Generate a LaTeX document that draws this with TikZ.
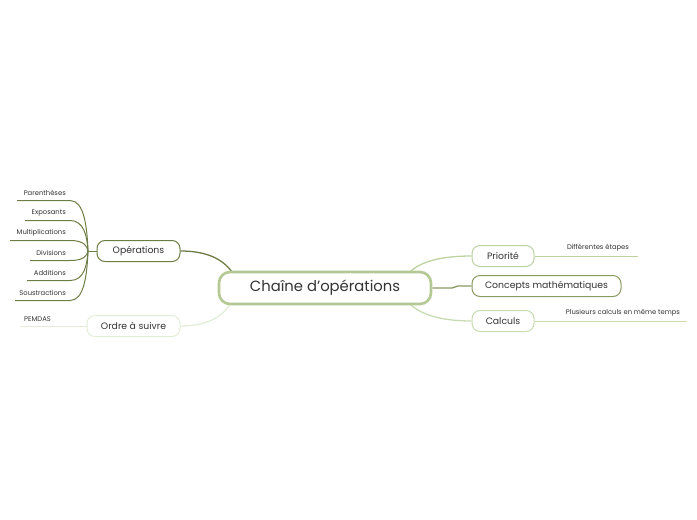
\documentclass[tikz,border=0pt]{standalone}
\usepackage{fontspec}
\setmainfont{Poppins}
\usetikzlibrary{backgrounds}
\definecolor{cmain}{HTML}{B4C994}
\definecolor{cdark}{HTML}{6E7D45}
\definecolor{cpale}{HTML}{E3EED6}
\definecolor{cprio}{HTML}{BCD3A0}
\definecolor{cconc}{HTML}{8A9A62}
\definecolor{ccalc}{HTML}{C8DCB2}
\definecolor{ctext}{HTML}{333333}
\tikzset{
  topic/.style={draw, rounded corners=8pt, fill=white, text=ctext, inner sep=0pt, minimum height=21pt, font=\fontsize{9.3}{10}\selectfont},
  leaf/.style={text=ctext, inner sep=0pt, font=\fontsize{6.8}{7}\selectfont},
  conn/.style={line width=1.3pt},
  leafline/.style={line width=1pt},
}
\begin{document}
\begin{tikzpicture}[x=1pt,y=-1pt]
\useasboundingbox (0,0) rectangle (697,520);
% central
\node[topic, draw=cmain, line width=2.6pt, rounded corners=11pt, minimum width=212pt, minimum height=32pt, font=\fontsize{14.8}{16}\selectfont] (c) at (325,288) {Chaîne d'opérations};
% main topics
\node[topic, draw=cdark, line width=1pt, minimum width=83pt] (op) at (138.5,251) {Opérations};
\node[topic, draw=cpale, line width=1pt, minimum width=93pt] (ord) at (133.5,326) {Ordre à suivre};
\node[topic, draw=cprio, line width=1pt, minimum width=62pt] (pri) at (503,256) {Priorité};
\node[topic, draw=cconc, line width=1pt, minimum width=149pt] (con) at (546.5,286) {Concepts mathématiques};
\node[topic, draw=ccalc, line width=1pt, minimum width=62pt] (cal) at (503,321) {Calculs};
\begin{scope}[on background layer]
\coordinate (cop) at (232,272);
\coordinate (cord) at (230,304);
\coordinate (cpri) at (410,272);
\coordinate (ccal) at (410,304);
\draw[conn, cdark] (op.east) .. controls (205,251) and (222,258) .. (cop);
\draw[conn, cpale] (ord.east) .. controls (205,326) and (222,318) .. (cord);
\draw[conn, cprio] (pri.west) .. controls (440,256) and (420,262) .. (cpri);
\draw[conn, cconc] (c.east) -- (452,288) -- (458,286) -- (con.west);
\draw[conn, ccalc] (cal.west) .. controls (440,321) and (420,314) .. (ccal);
\end{scope}
% left leaves
\coordinate (sp) at (88,251);
\draw[cdark, leafline] (op.west) -- (sp);
\foreach \name/\txt/\y/\xs in {l1/Parenthèses/200.5/17, l2/Exposants/220.5/25, l3/Multiplications/240.5/10, l4/Divisions/260.5/30, l5/Additions/280.5/27, l6/Soustractions/300.5/15}{
  \node[leaf, anchor=south east] (\name) at (66,\y-4.5) {\txt};
  \coordinate (\name u) at (\xs,\y);
  \coordinate (\name e) at (70,\y);
  \draw[cdark, leafline] (\name u) -- (\name e) .. controls (84,\y) and (87,{(\y+251)/2}) .. (sp);
}
% PEMDAS
\node[leaf, anchor=south west] (pem) at (24,321.5) {PEMDAS};
\coordinate (pemu) at (20,326);
\draw[cpale, leafline] (pemu) -- (ord.west);
% right leaves
\node[leaf, anchor=south] (dif) at (598,251) {Différentes étapes};
\coordinate (difu) at (638,256);
\draw[cprio, leafline] (pri.east) -- (difu);
\node[leaf, anchor=south] (plu) at (623,316) {Plusieurs calculs en même temps};
\coordinate (pluu) at (687,321);
\draw[ccalc, leafline] (cal.east) -- (pluu);
\end{tikzpicture}
\end{document}
